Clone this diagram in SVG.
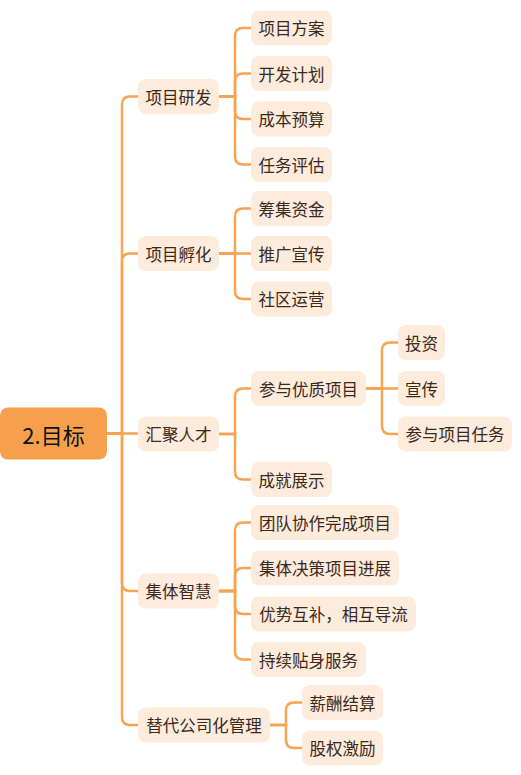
<svg xmlns="http://www.w3.org/2000/svg" width="521" height="775" viewBox="0 0 521 775">
  <style>
    .link { fill: none; stroke: #F6A352; stroke-width: 2.5; stroke-linecap: round; }
    .box { fill: #FDEBDC; }
    .rootbox { fill: #F6A04E; }
    .t { font-family: "Noto Sans CJK SC", "Noto Sans", sans-serif; font-size: 16.5px; fill: #3a2a1c; text-anchor: middle; dominant-baseline: central; }
    .rt { font-family: "Noto Sans CJK SC", "Noto Sans", sans-serif; font-size: 22px; fill: #111; text-anchor: middle; dominant-baseline: central; }
  </style>
  <rect width="521" height="775" fill="#ffffff"/>

  <!-- connectors: elbow lines with rounded corners -->
  <g id="connectors">
    <!-- root to level 1 -->
    <path class="link" d="M107,433.5 H122 V104.5 Q122,96.5 130,96.5 H138"/>
    <path class="link" d="M107,433.5 H122 V261.5 Q122,253.5 130,253.5 H138"/>
    <path class="link" d="M107,433.5 H138"/>
    <path class="link" d="M107,433.5 H122 V583 Q122,591 130,591 H138"/>
    <path class="link" d="M107,433.5 H122 V717 Q122,725 130,725 H138"/>
    <!-- 项目研发 -->
    <path class="link" d="M219,96.5 H235 V36 Q235,28 243,28 H251"/>
    <path class="link" d="M219,96.5 H235 V81.5 Q235,73.5 243,73.5 H251"/>
    <path class="link" d="M219,96.5 H235 V111 Q235,119 243,119 H251"/>
    <path class="link" d="M219,96.5 H235 V156.5 Q235,164.5 243,164.5 H251"/>
    <!-- 项目孵化 -->
    <path class="link" d="M219,253.5 H235 V216.5 Q235,208.5 243,208.5 H251"/>
    <path class="link" d="M219,253.5 H251"/>
    <path class="link" d="M219,253.5 H235 V291 Q235,299 243,299 H251"/>
    <!-- 汇聚人才 -->
    <path class="link" d="M219,434 H235 V396.5 Q235,388.5 243,388.5 H251"/>
    <path class="link" d="M219,434 H235 V471.5 Q235,479.5 243,479.5 H251"/>
    <!-- 参与优质项目 -->
    <path class="link" d="M366,388.5 H382 V350.5 Q382,342.5 390,342.5 H398"/>
    <path class="link" d="M366,388.5 H398"/>
    <path class="link" d="M366,388.5 H382 V426 Q382,434 390,434 H398"/>
    <!-- 集体智慧 -->
    <path class="link" d="M219,591 H235 V530.5 Q235,522.5 243,522.5 H251"/>
    <path class="link" d="M219,591 H235 V576 Q235,568 243,568 H251"/>
    <path class="link" d="M219,591 H235 V606 Q235,614 243,614 H251"/>
    <path class="link" d="M219,591 H235 V651.5 Q235,659.5 243,659.5 H251"/>
    <!-- 替代公司化管理 -->
    <path class="link" d="M270,725 H286 V710.5 Q286,702.5 294,702.5 H302"/>
    <path class="link" d="M270,725 H286 V740 Q286,748 294,748 H302"/>
  </g>

  <!-- root -->
  <g id="root">
    <rect class="rootbox" x="0" y="407.5" width="107" height="52" rx="8"/>
    <text class="rt" x="53.5" y="433.5">2.目标</text>
  </g>

  <!-- level 1 -->
  <g id="n-yanfa"><rect class="box" x="138" y="79" width="81" height="35" rx="8"/><text class="t" x="178.5" y="96.5">项目研发</text></g>
  <g id="n-fuhua"><rect class="box" x="138" y="236" width="81" height="35" rx="8"/><text class="t" x="178.5" y="253.5">项目孵化</text></g>
  <g id="n-huiju"><rect class="box" x="138" y="416.5" width="81" height="35" rx="8"/><text class="t" x="178.5" y="434">汇聚人才</text></g>
  <g id="n-zhihui"><rect class="box" x="138" y="573.5" width="81" height="35" rx="8"/><text class="t" x="178.5" y="591">集体智慧</text></g>
  <g id="n-tidai"><rect class="box" x="138" y="707.5" width="132" height="35" rx="8"/><text class="t" x="204" y="725">替代公司化管理</text></g>

  <!-- level 2: 项目研发 -->
  <g id="n-fangan"><rect class="box" x="251" y="10.5" width="81" height="35" rx="8"/><text class="t" x="291.5" y="28">项目方案</text></g>
  <g id="n-jihua"><rect class="box" x="251" y="56" width="81" height="35" rx="8"/><text class="t" x="291.5" y="73.5">开发计划</text></g>
  <g id="n-yusuan"><rect class="box" x="251" y="101.5" width="81" height="35" rx="8"/><text class="t" x="291.5" y="119">成本预算</text></g>
  <g id="n-pinggu"><rect class="box" x="251" y="147" width="81" height="35" rx="8"/><text class="t" x="291.5" y="164.5">任务评估</text></g>

  <!-- level 2: 项目孵化 -->
  <g id="n-chouji"><rect class="box" x="251" y="191" width="81" height="35" rx="8"/><text class="t" x="291.5" y="208.5">筹集资金</text></g>
  <g id="n-tuiguang"><rect class="box" x="251" y="236" width="81" height="35" rx="8"/><text class="t" x="291.5" y="253.5">推广宣传</text></g>
  <g id="n-shequ"><rect class="box" x="251" y="281.5" width="81" height="35" rx="8"/><text class="t" x="291.5" y="299">社区运营</text></g>

  <!-- level 2: 汇聚人才 -->
  <g id="n-canyu"><rect class="box" x="251" y="371" width="115" height="35" rx="8"/><text class="t" x="308.5" y="388.5">参与优质项目</text></g>
  <g id="n-chengjiu"><rect class="box" x="251" y="462" width="81" height="35" rx="8"/><text class="t" x="291.5" y="479.5">成就展示</text></g>

  <!-- level 3: 参与优质项目 -->
  <g id="n-touzi"><rect class="box" x="398" y="325" width="47" height="35" rx="8"/><text class="t" x="421.5" y="342.5">投资</text></g>
  <g id="n-xuanchuan"><rect class="box" x="398" y="371" width="47" height="35" rx="8"/><text class="t" x="421.5" y="388.5">宣传</text></g>
  <g id="n-renwu"><rect class="box" x="398" y="416.5" width="114" height="35" rx="8"/><text class="t" x="455" y="434">参与项目任务</text></g>

  <!-- level 2: 集体智慧 -->
  <g id="n-tuandui"><rect class="box" x="251" y="505" width="148" height="35" rx="8"/><text class="t" x="325" y="522.5">团队协作完成项目</text></g>
  <g id="n-juece"><rect class="box" x="251" y="550.5" width="148" height="35" rx="8"/><text class="t" x="325" y="568">集体决策项目进展</text></g>
  <g id="n-hubu"><rect class="box" x="251" y="596.5" width="165" height="35" rx="8"/><text class="t" x="333.5" y="614">优势互补，相互导流</text></g>
  <g id="n-fuwu"><rect class="box" x="251" y="642" width="115" height="35" rx="8"/><text class="t" x="308.5" y="659.5">持续贴身服务</text></g>

  <!-- level 2: 替代公司化管理 -->
  <g id="n-xinchou"><rect class="box" x="302" y="685" width="81" height="35" rx="8"/><text class="t" x="342.5" y="702.5">薪酬结算</text></g>
  <g id="n-guquan"><rect class="box" x="302" y="730.5" width="81" height="35" rx="8"/><text class="t" x="342.5" y="748">股权激励</text></g>
</svg>
